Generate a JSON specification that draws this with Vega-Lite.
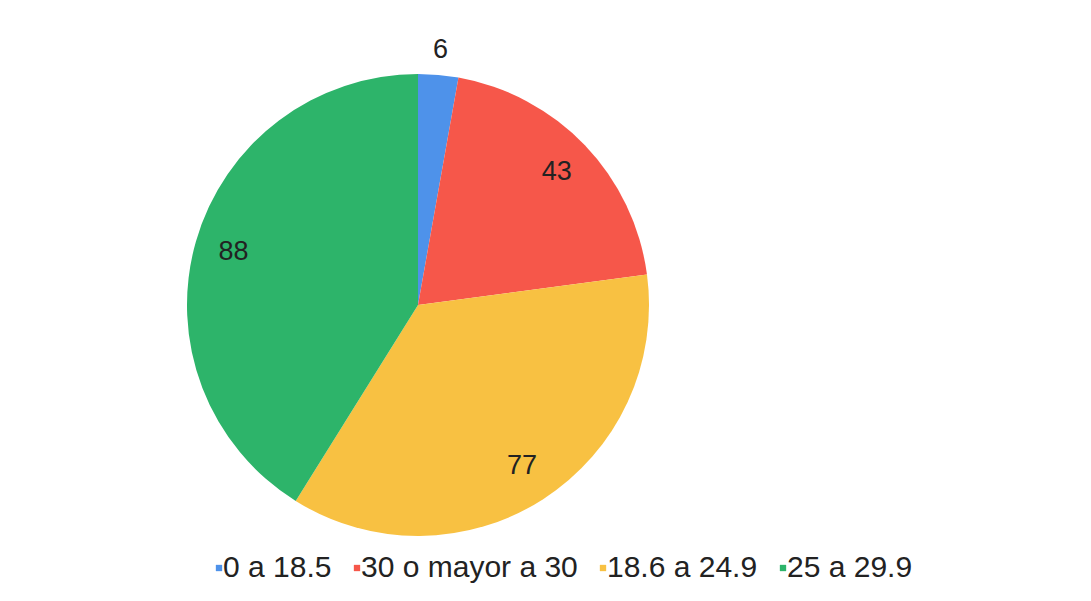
{
  "$schema": "https://vega.github.io/schema/vega-lite/v6.json",
  "width": 836,
  "height": 594,
  "autosize": {"type": "none"},
  "padding": {"top": 8, "left": 0, "right": 255, "bottom": 0},
  "background": "white",
  "config": {"view": {"stroke": null}},
  "data": {
    "values": [
      {"categoria": "0 a 18.5", "valor": 6, "orden": 1},
      {"categoria": "30 o mayor a 30", "valor": 43, "orden": 2},
      {"categoria": "18.6 a 24.9", "valor": 77, "orden": 3},
      {"categoria": "25 a 29.9", "valor": 88, "orden": 4}
    ]
  },
  "encoding": {
    "theta": {"field": "valor", "type": "quantitative", "stack": true},
    "order": {"field": "orden", "type": "quantitative"}
  },
  "layer": [
    {
      "mark": {"type": "arc", "outerRadius": 231},
      "encoding": {
        "color": {
          "field": "categoria",
          "type": "nominal",
          "scale": {
            "domain": ["0 a 18.5", "30 o mayor a 30", "18.6 a 24.9", "25 a 29.9"],
            "range": ["#4e92ea", "#f6574a", "#f8c142", "#2db46a"]
          },
          "legend": {
            "title": null,
            "orient": "none",
            "direction": "horizontal",
            "legendX": 204,
            "legendY": 545,
            "labelFont": "Liberation Sans",
            "labelFontSize": 30,
            "labelLimit": 400,
            "labelColor": "#222222",
            "symbolType": "square",
            "symbolSize": 40,
            "symbolStrokeWidth": 0,
            "labelOffset": -11,
            "columnPadding": 10
          }
        }
      }
    },
    {
      "mark": {"type": "text", "radius": 192, "font": "Liberation Sans", "fontSize": 27, "fill": "#222222"},
      "encoding": {
        "text": {"field": "valor", "type": "quantitative"},
        "opacity": {"condition": {"test": "datum.valor < 10", "value": 0}, "value": 1}
      }
    },
    {
      "mark": {"type": "text", "radius": 256, "font": "Liberation Sans", "fontSize": 27, "fill": "#222222"},
      "encoding": {
        "text": {"field": "valor", "type": "quantitative"},
        "opacity": {"condition": {"test": "datum.valor < 10", "value": 1}, "value": 0}
      }
    }
  ]
}
